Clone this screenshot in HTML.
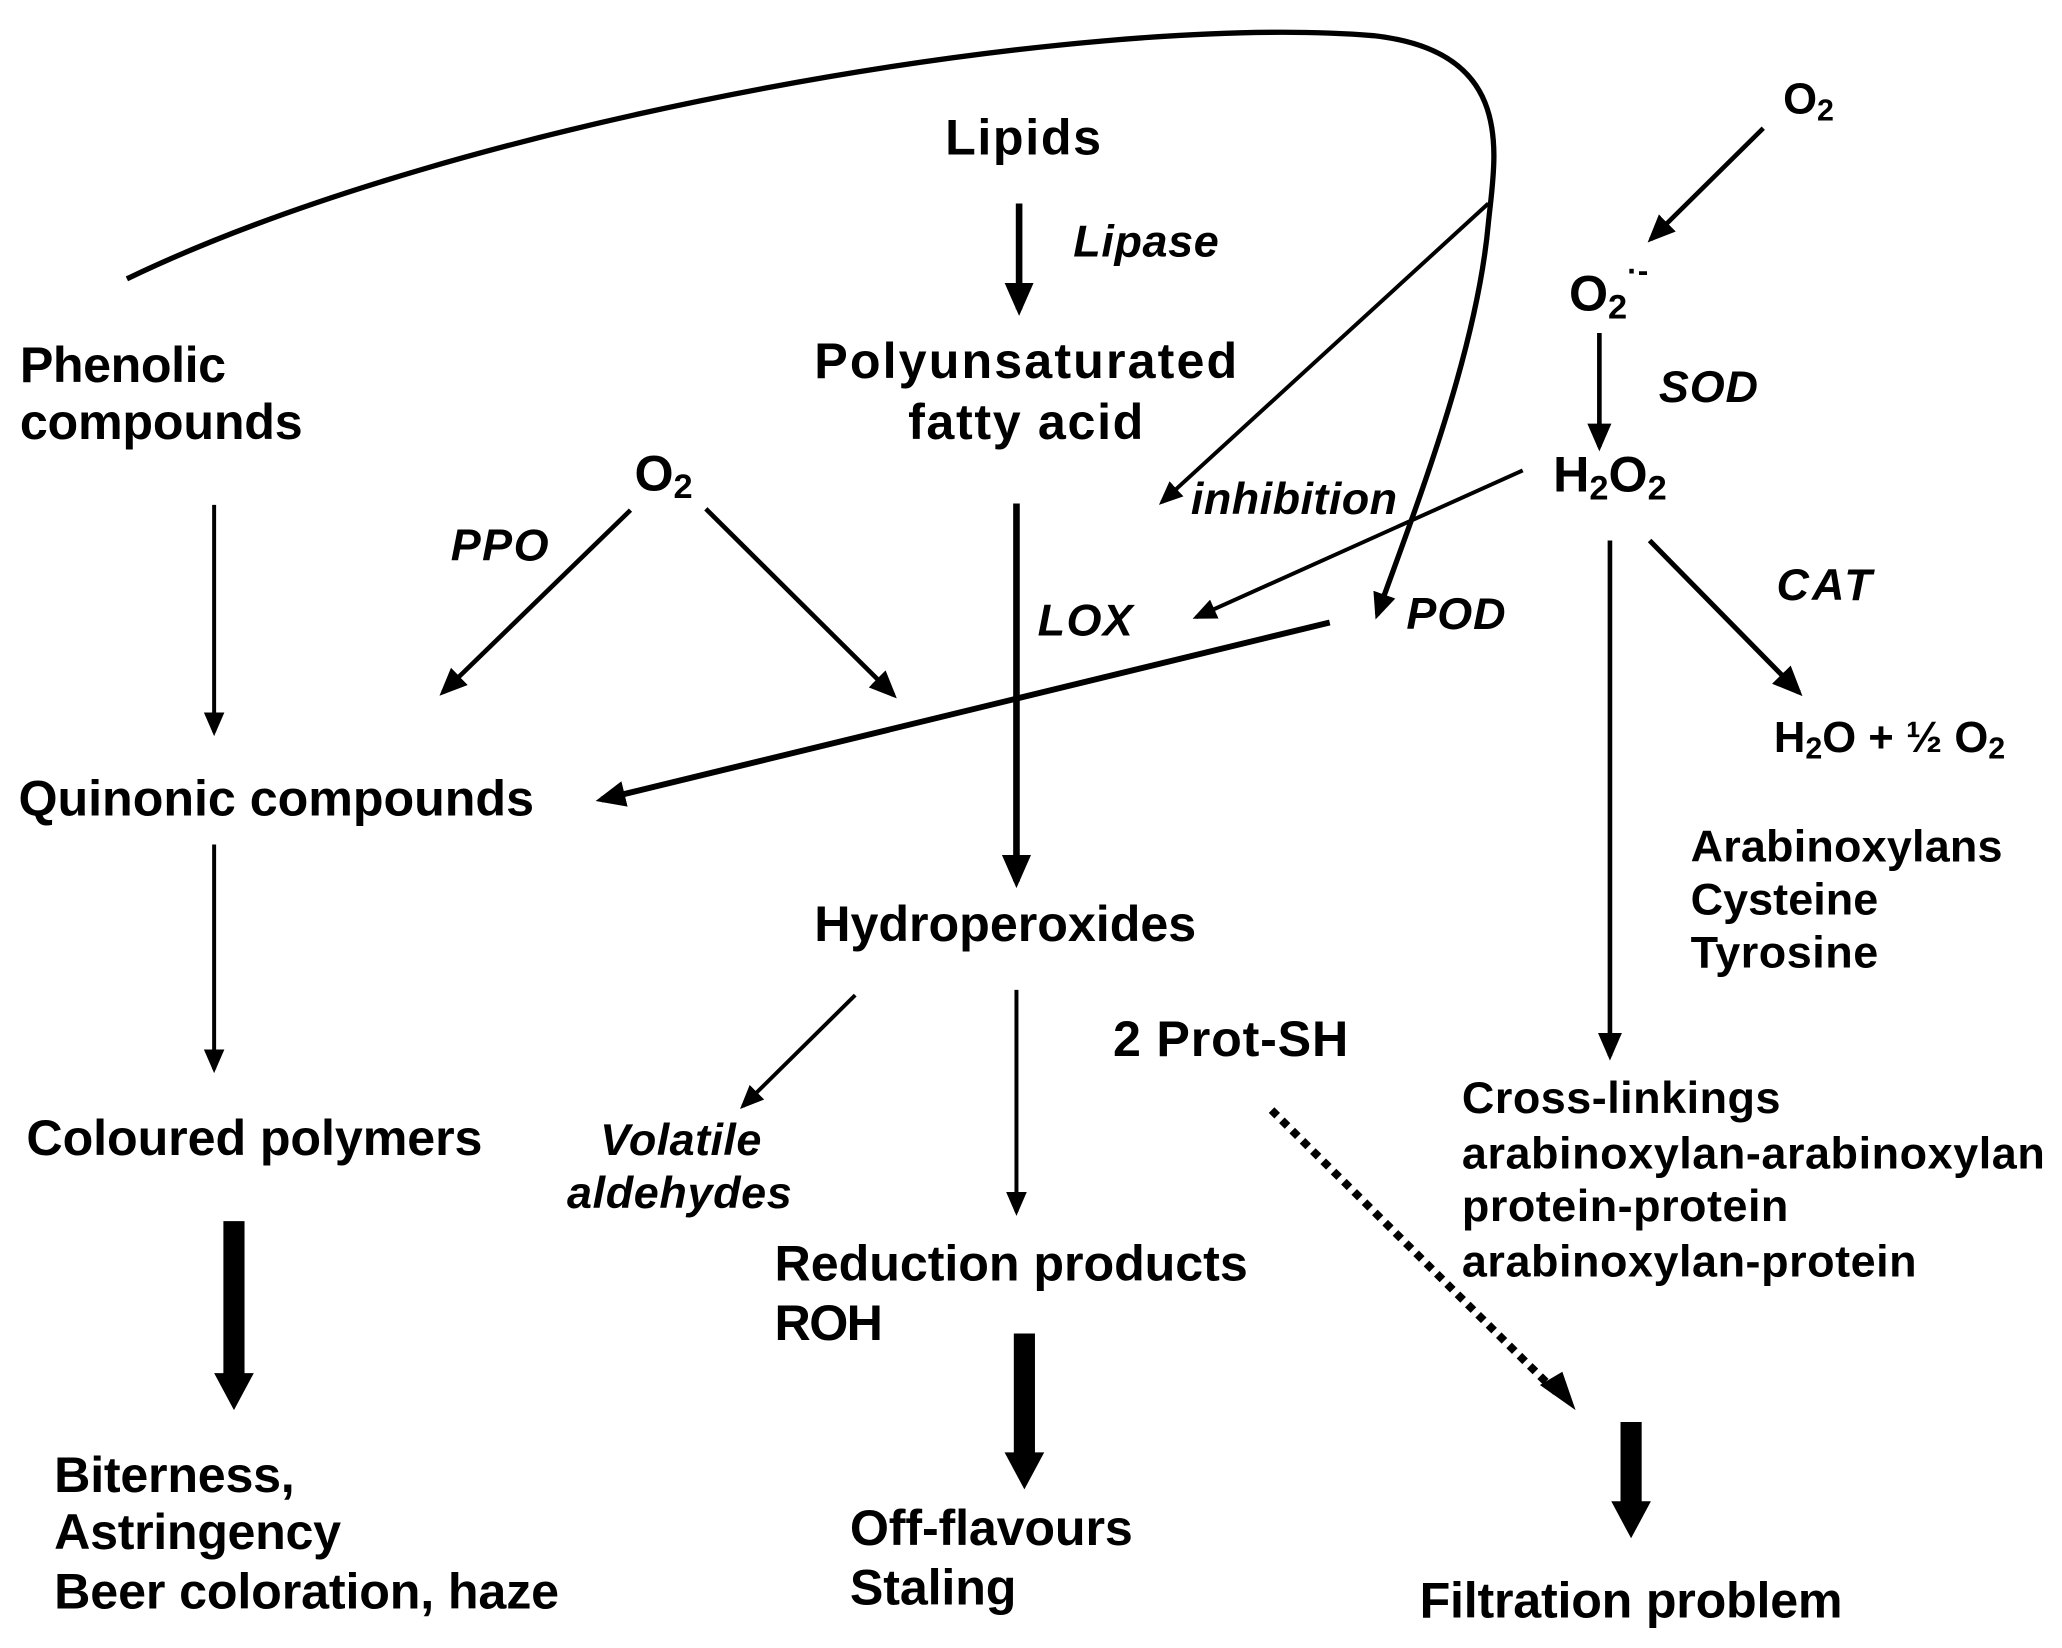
<!DOCTYPE html>
<html><head><meta charset="utf-8"><style>
html,body{margin:0;padding:0;background:#fff;width:2062px;height:1648px;overflow:hidden}
svg{display:block}
text{font-family:"Liberation Sans",Arial,sans-serif;font-weight:bold;fill:#000}
.b{font-size:38px}.m{font-size:34px}.i{font-size:34px;font-style:italic}.s{font-size:33px}
</style></head><body>
<svg width="2062" height="1648" viewBox="0 0 1560 1247" preserveAspectRatio="none" xmlns="http://www.w3.org/2000/svg">
<defs>
<marker id="a" markerWidth="6" markerHeight="6" refX="5" refY="3" orient="auto" markerUnits="strokeWidth"><path d="M0,0.4 L6,3 L0,5.6 Z" fill="#000"/></marker>
<marker id="a2" markerWidth="5" markerHeight="5" refX="4" refY="2.5" orient="auto" markerUnits="strokeWidth"><path d="M0,0.3 L5,2.5 L0,4.7 Z" fill="#000"/></marker>
</defs>
<g transform="translate(-1,-1)">
<g stroke="#000" fill="none">
<path d="M97,212 C350,90 820,10 1040,28 C1150,40 1132,120 1127,170 C1118,270 1070,390 1043,466" stroke-width="4" marker-end="url(#a2)"/>
<line x1="1127" y1="155" x2="880" y2="381" stroke-width="3" marker-end="url(#a)"/>
<line x1="1153" y1="357" x2="906" y2="468" stroke-width="3" marker-end="url(#a)"/>
<line x1="1007" y1="472" x2="456" y2="606" stroke-width="4.5" marker-end="url(#a2)"/>
<line x1="1335" y1="98" x2="1250" y2="182" stroke-width="3.5" marker-end="url(#a)"/>
<line x1="1211" y1="253" x2="1211" y2="339" stroke-width="3.5" marker-end="url(#a)"/>
<line x1="1219" y1="410" x2="1219" y2="800" stroke-width="3.5" marker-end="url(#a)"/>
<line x1="1249" y1="410" x2="1362" y2="525" stroke-width="3.8" marker-end="url(#a)"/>
<line x1="478" y1="387" x2="336" y2="525" stroke-width="3.5" marker-end="url(#a)"/>
<line x1="535" y1="386" x2="677" y2="527" stroke-width="3.5" marker-end="url(#a)"/>
<line x1="163" y1="383" x2="163" y2="555" stroke-width="3" marker-end="url(#a)"/>
<line x1="163" y1="640" x2="163" y2="810" stroke-width="3" marker-end="url(#a)"/>
<line x1="772" y1="155" x2="772" y2="235" stroke-width="5" marker-end="url(#a2)"/>
<line x1="770" y1="382" x2="770" y2="668" stroke-width="5" marker-end="url(#a2)"/>
<line x1="648" y1="754" x2="563" y2="838" stroke-width="3" marker-end="url(#a)"/>
<line x1="770" y1="750" x2="770" y2="918" stroke-width="3" marker-end="url(#a)"/>
<line x1="963" y1="841" x2="1180" y2="1056" stroke-width="6" stroke-dasharray="6,5"/>
</g>
<path d="M1166,1049 L1193,1068 L1183,1039 Z" fill="#000"/>
<g fill="#000">
<path d="M170,925 H186 V1040 H193 L178,1068 L163,1040 H170 Z"/>
<path d="M768,1010 H784 V1100 H791 L776,1128 L761,1100 H768 Z"/>
<path d="M1227,1077 H1243 V1137 H1250 L1235,1165 L1220,1137 H1227 Z"/>
</g>
<text class="b" x="775" y="118" text-anchor="middle" textLength="118">Lipids</text>
<text class="i" x="813" y="195" textLength="110">Lipase</text>
<text class="b" x="617" y="287" textLength="320">Polyunsaturated</text>
<text class="b" x="688" y="333" textLength="178">fatty acid</text>
<text class="b" x="16" y="290" textLength="156">Phenolic</text>
<text class="b" x="16" y="333" textLength="214">compounds</text>
<text class="b" x="481" y="372">O<tspan font-size="26" dy="6">2</tspan></text>
<text class="i" x="342" y="425" textLength="74">PPO</text>
<text class="i" x="902" y="390" textLength="156">inhibition</text>
<text class="b" x="1176" y="373">H<tspan font-size="26" dy="6">2</tspan><tspan dy="-6">O</tspan><tspan font-size="26" dy="6">2</tspan></text>
<text class="s" x="1350" y="87">O<tspan font-size="23" dy="5">2</tspan></text>
<text class="b" x="1188" y="236">O<tspan font-size="26" dy="6">2</tspan><tspan font-size="24" dy="-28">·-</tspan></text>
<text class="i" x="1256" y="305" textLength="75">SOD</text>
<text class="i" x="1345" y="455" textLength="72">CAT</text>
<text class="i" x="786" y="482" textLength="72">LOX</text>
<text class="i" x="1065" y="477" textLength="75">POD</text>
<text class="s" x="1343" y="570">H<tspan font-size="23" dy="5">2</tspan><tspan dy="-5">O + ½ O</tspan><tspan font-size="23" dy="5">2</tspan></text>
<text class="b" x="15" y="618" textLength="390">Quinonic compounds</text>
<text class="m" x="1280" y="653" textLength="236">Arabinoxylans</text>
<text class="m" x="1280" y="693" textLength="142">Cysteine</text>
<text class="m" x="1280" y="733" textLength="142">Tyrosine</text>
<text class="b" x="617" y="713" textLength="289">Hydroperoxides</text>
<text class="b" x="843" y="800" textLength="178">2 Prot-SH</text>
<text class="m" x="1107" y="843" textLength="241">Cross-linkings</text>
<text class="m" x="1107" y="885" textLength="441">arabinoxylan-arabinoxylan</text>
<text class="m" x="1107" y="925" textLength="247">protein-protein</text>
<text class="m" x="1107" y="967" textLength="344">arabinoxylan-protein</text>
<text class="b" x="21" y="875" textLength="345">Coloured polymers</text>
<text class="i" x="455" y="875" textLength="122">Volatile</text>
<text class="i" x="430" y="915" textLength="170">aldehydes</text>
<text class="b" x="587" y="970" textLength="358">Reduction products</text>
<text class="b" x="587" y="1015" textLength="82">ROH</text>
<text class="b" x="42" y="1130" textLength="182">Biterness,</text>
<text class="b" x="42" y="1173" textLength="217">Astringency</text>
<text class="b" x="42" y="1218" textLength="382">Beer coloration, haze</text>
<text class="b" x="644" y="1170" textLength="214">Off-flavours</text>
<text class="b" x="644" y="1215" textLength="126">Staling</text>
<text class="b" x="1075" y="1225" textLength="320">Filtration problem</text>
</g>
</svg>
</body></html>
